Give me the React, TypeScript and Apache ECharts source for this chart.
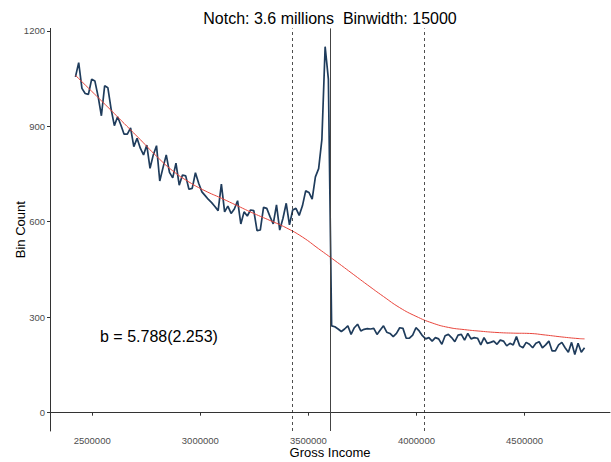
import React, { useEffect, useRef } from "react";
import * as echarts from "echarts";

const binWidth = 15000;
const firstBinCenter = 2422500;
const binCounts = [
  1055, 1100, 1019, 1003, 1000, 1048, 1042, 993, 933, 1027,
  1021, 954, 902, 930, 904, 875, 875, 895, 836, 862,
  831, 810, 841, 768, 810, 839, 728, 770, 810, 755,
  738, 784, 715, 747, 744, 702, 705, 754, 721, 694,
  682, 670, 660, 648, 635, 718, 631, 649, 626, 640,
  666, 593, 631, 618, 637, 635, 572, 574, 645, 642,
  616, 593, 653, 574, 611, 658, 590, 637, 642, 620,
  650, 697, 692, 671, 741, 767, 859, 1150, 1048,
  273, 270, 263, 255, 263, 273, 246, 267, 278, 257,
  262, 264, 263, 265, 246, 260, 273, 253, 249, 239,
  249, 267, 265, 234, 234, 244, 267, 257, 242, 232,
  236, 225, 236, 232, 215, 242, 246, 236, 223, 244,
  246, 228,
  249, 232, 236, 234, 213, 236, 218, 221, 225, 215,
  228, 225, 210, 218, 213, 239, 210, 204, 221, 215,
  204, 218, 223, 204, 213, 225, 194, 194, 213, 221,
  204, 190, 221, 183, 218, 190, 204,
];

const fitIncome = [
  2422500, 2497500, 2572500, 2647500, 2722500, 2797500, 2872500, 2947500,
  3022500, 3097500, 3172500, 3247500, 3322500, 3397500, 3472500, 3547500,
  3622500, 3697500, 3772500, 3847500, 3922500, 3997500, 4072500, 4147500,
  4222500, 4297500, 4372500, 4447500, 4522500, 4597500, 4672500, 4747500,
  4777500,
];
const fitCounts = [
  1060, 1010, 960, 909, 858, 806, 760, 725,
  697, 674, 650, 626, 604, 581, 552, 515,
  478, 440, 402, 365, 330, 303, 282, 268,
  261, 256, 252, 250, 249, 244, 238, 233,
  232,
];

const notch = 3600000;
const lowerBound = 3425000;
const upperBound = 4035000;
const xTicks = [2500000, 3000000, 3500000, 4000000, 4500000];
const yTicks = [0, 300, 600, 900, 1200];
const titleText = "Notch: 3.6 millions  Binwidth: 15000";
const estimateText = "b = 5.788(2.253)";

const FONT = "'Liberation Sans', Arial, sans-serif";

export default function App() {
  const ref = useRef<HTMLDivElement>(null);
  useEffect(() => {
    if (!ref.current) return;
    const chart = echarts.init(ref.current, null, { renderer: "svg" });
    const binData = binCounts.map((c, i) => [firstBinCenter + i * binWidth, c]);
    const fitData = fitIncome.map((x, i) => [x, fitCounts[i]]);
    chart.setOption({
      animation: false,
      backgroundColor: "#ffffff",
      textStyle: { fontFamily: FONT },
      grid: {
        left: 50,
        right: 1,
        top: 28.4,
        bottom: 31,
        containLabel: false,
        outerBoundsMode: "none",
      },
      graphic: [
        {
          type: "text",
          x: 330,
          y: 18,
          style: {
            text: titleText,
            fontSize: 16,
            fontFamily: FONT,
            fill: "#000",
            textAlign: "center",
            textVerticalAlign: "middle",
          },
        },
        {
          type: "text",
          x: 100,
          y: 336,
          style: {
            text: estimateText,
            fontSize: 16,
            fontFamily: FONT,
            fill: "#000",
            textAlign: "left",
            textVerticalAlign: "middle",
          },
        },
      ],
      xAxis: {
        type: "value",
        min: 2304750,
        max: 4895250,
        name: "Gross Income",
        nameLocation: "middle",
        nameGap: 15,
        nameMoveOverlap: false,
        nameTextStyle: { fontSize: 13, color: "#000", fontFamily: FONT },
        axisLine: { show: true, lineStyle: { color: "#333", width: 1 } },
        axisTick: {
          show: true,
          length: 3,
          customValues: xTicks,
          lineStyle: { color: "#333" },
        },
        axisLabel: {
          customValues: xTicks,
          formatter: (v: number) => String(v),
          fontSize: 9.5,
          color: "#4d4d4d",
          margin: 4.5,
          fontFamily: FONT,
        },
        splitLine: { show: false },
      },
      yAxis: {
        type: "value",
        min: -57.5,
        max: 1207.5,
        name: "Bin Count",
        nameLocation: "middle",
        nameGap: 23,
        nameMoveOverlap: false,
        nameTextStyle: { fontSize: 13, color: "#000", fontFamily: FONT },
        axisLine: { show: true, lineStyle: { color: "#333", width: 1 } },
        axisTick: {
          show: true,
          length: 3,
          customValues: yTicks,
          lineStyle: { color: "#333" },
        },
        axisLabel: {
          customValues: yTicks,
          formatter: (v: number) => String(v),
          fontSize: 9.5,
          color: "#4d4d4d",
          margin: 5,
          fontFamily: FONT,
        },
        splitLine: { show: false },
      },
      series: [
        {
          type: "line",
          data: fitData,
          showSymbol: false,
          smooth: true,
          lineStyle: { color: "#e8453c", width: 1 },
          z: 3,
        },
        {
          type: "line",
          data: binData,
          showSymbol: false,
          lineStyle: { color: "#1f3c5c", width: 1.7 },
          z: 2,
          markLine: {
            silent: true,
            symbol: "none",
            label: { show: false },
            data: [
              { xAxis: lowerBound, lineStyle: { type: [3, 3], color: "#222", width: 0.8 } },
              { xAxis: upperBound, lineStyle: { type: [3, 3], color: "#222", width: 0.8 } },
              { xAxis: notch, lineStyle: { type: "solid", color: "#444", width: 1 } },
            ],
          },
        },
      ],
    });
    return () => chart.dispose();
  }, []);
  return (
    <div
      ref={ref}
      style={{ position: "fixed", left: 0, top: 0, width: 611, height: 462, background: "#fff" }}
    />
  );
}
